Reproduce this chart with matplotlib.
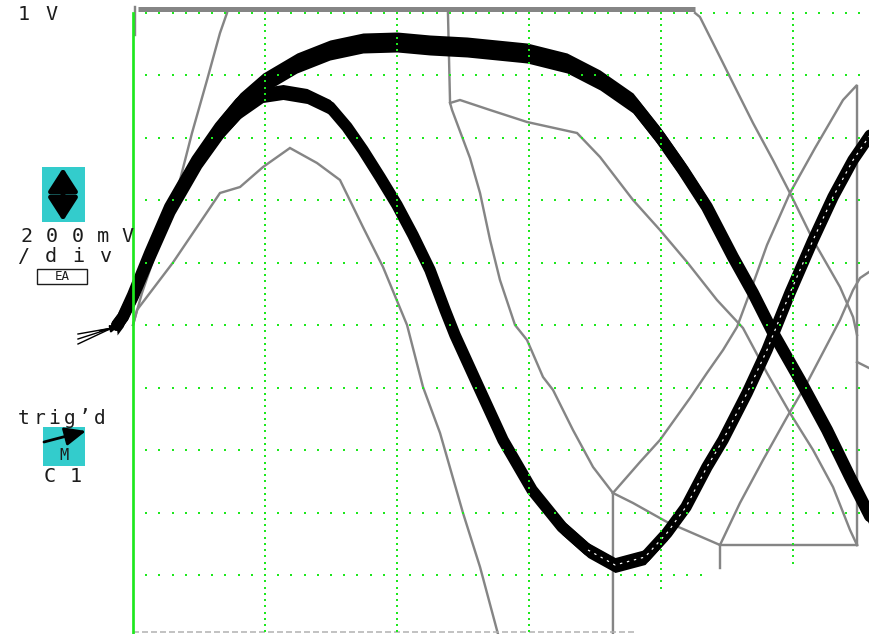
import matplotlib
matplotlib.use("Agg")
import matplotlib.pyplot as plt
import numpy as np
from matplotlib.patches import Rectangle

# screen units: t in divisions from the left edge of the grid,
# v in divisions from the centre line (200 mV/div)

# black trace, slow sweep (upper hump)
a_t = [-0.121, -0.076, 0.0, 0.129, 0.280, 0.485, 0.659, 0.811, 0.985, 1.242, 1.492,
       1.742, 2.0, 2.25, 2.530, 2.985, 3.288, 3.538, 3.788, 3.992, 4.167, 4.348,
       4.545, 4.697, 4.848, 5.053, 5.258, 5.432, 5.598]
a_v = [0.0, 0.128, 0.48, 1.152, 1.888, 2.64, 3.168, 3.552, 3.872, 4.192, 4.40,
       4.512, 4.528, 4.48, 4.448, 4.352, 4.192, 3.92, 3.552, 3.008, 2.48, 1.888,
       1.088, 0.512, -0.12, -0.88, -1.68, -2.432, -3.12]

# black trace, fast sweep (full sine)
b_t = [-0.121, -0.076, 0.0, 0.129, 0.280, 0.485, 0.659, 0.811, 0.985, 1.136, 1.318,
       1.492, 1.621, 1.742, 1.871, 2.0, 2.121, 2.25, 2.364, 2.439, 2.629, 2.803,
       3.023, 3.25, 3.447, 3.652, 3.879, 4.045, 4.189, 4.348, 4.470, 4.652, 4.803,
       4.977, 5.152, 5.303, 5.455, 5.621]
b_v = [0.0, 0.128, 0.448, 1.088, 1.808, 2.56, 3.072, 3.424, 3.68, 3.728, 3.664,
       3.488, 3.168, 2.8, 2.368, 1.92, 1.44, 0.88, 0.24, -0.16, -1.04, -1.84,
       -2.64, -3.232, -3.6, -3.84, -3.712, -3.328, -2.912, -2.272, -1.84, -1.088, -0.4,
       0.512, 1.36, 2.048, 2.64, 3.152]

# grey (single-shot) traces
g1_t = [0.0, 0.068, 0.205, 0.356, 0.447, 0.561, 0.659, 0.712]
g1_v = [0.0, 0.512, 1.36, 2.32, 3.072, 3.92, 4.672, 4.992]

g2_t = [0.0, 0.030, 0.303, 0.659, 0.811, 0.985, 1.189, 1.394, 1.568, 1.742, 1.894,
        2.076, 2.197, 2.326, 2.5, 2.629, 2.765, 2.788]
g2_v = [0.0, 0.24, 1.0, 2.112, 2.208, 2.528, 2.832, 2.592, 2.32, 1.568, 0.928,
        0.0, -0.992, -1.728, -3.008, -3.872, -4.944, -5.12]

g3_t = [2.386, 2.402, 2.417, 2.553, 2.629, 2.705, 2.780, 2.894, 2.985, 3.106, 3.182,
        3.333, 3.485, 3.636, 3.636]
g3_v = [4.992, 3.552, 3.44, 2.672, 2.112, 1.36, 0.72, 0.0, -0.24, -0.832, -1.04,
        -1.68, -2.272, -2.688, -5.04]

g4_t = [2.402, 2.477, 2.705, 2.985, 3.364, 3.538, 3.788, 3.992, 4.197, 4.424, 4.621,
        4.803, 4.977, 5.152, 5.303, 5.432, 5.485]
g4_v = [3.552, 3.6, 3.44, 3.248, 3.072, 2.688, 2.0, 1.52, 1.008, 0.4, -0.048,
        -0.768, -1.408, -2.0, -2.592, -3.28, -3.52]

g5_t = [3.636, 3.841, 3.992, 4.220, 4.348, 4.470, 4.576, 4.652, 4.727, 4.803, 4.977,
        5.167, 5.379, 5.485, 5.485]
g5_v = [-2.688, -2.192, -1.84, -1.168, -0.768, -0.4, -0.032, 0.4, 0.832, 1.28, 2.112,
        2.832, 3.6, 3.84, -3.52]

g6_t = [4.258, 4.295, 4.447, 4.545, 4.697, 4.848, 4.977, 5.152, 5.356, 5.455, 5.485]
g6_v = [4.992, 4.928, 4.288, 3.872, 3.232, 2.64, 2.112, 1.36, 0.608, 0.128, -0.16]

g7_t = [4.447, 4.598, 4.773, 4.955, 5.106, 5.356, 5.455, 5.508, 5.576]
g7_v = [-3.52, -2.848, -2.16, -1.472, -0.928, 0.08, 0.56, 0.752, 0.848]

g8_t = [3.636, 3.788, 4.045, 4.220, 4.447, 5.485]
g8_v = [-2.688, -2.848, -3.152, -3.312, -3.52, -3.52]

g9_t = [4.447, 4.447]
g9_v = [-3.52, -3.888]

g10_t = [5.485, 5.576]
g10_v = [-0.592, -0.688]

top_t = [0.038, 4.258]          # clipped at top of screen
top_v = [5.056, 5.056]
stub_t = [0.015, 0.015]
stub_v = [5.088, 4.64]
floor_t = [0.0, 3.8]            # faint line along the bottom edge
floor_v = [-4.91, -4.91]

W, H = 869, 634
X0, Y0, DX, DY = 133, 325, 132, 62.5   # screen geometry in pixels

fig = plt.figure(figsize=(W / 100, H / 100), dpi=100)
ax = fig.add_axes([0, 0, 1, 1])
ax.set_xlim(-X0 / DX, (W - X0) / DX)
ax.set_ylim((Y0 - H) / DY, Y0 / DY)
ax.axis("off")

px = 0.72  # points per pixel
GREY = "#858585"
GREEN = "#1ee81e"

for t, v in [(g1_t, g1_v), (g2_t, g2_v), (g3_t, g3_v), (g4_t, g4_v), (g5_t, g5_v),
             (g6_t, g6_v), (g7_t, g7_v), (g8_t, g8_v), (g9_t, g9_v), (g10_t, g10_v),
             (stub_t, stub_v)]:
    ax.plot(t, v, color=GREY, lw=2.4 * px, solid_joinstyle="miter", zorder=2)
ax.plot(top_t, top_v, color=GREY, lw=5 * px, solid_capstyle="butt", zorder=2)
ax.plot(floor_t, floor_v, color="#b0b0b0", lw=1.5 * px, dashes=(4, 2), zorder=2)

# noisy black traces: vertical noise band plus a thick core
ax.fill_between(a_t, np.array(a_v) - 0.16, np.array(a_v) + 0.16, color="k", lw=0, zorder=3)
ax.plot(a_t, a_v, color="k", lw=12 * px, solid_capstyle="round", zorder=3)
ax.fill_between(b_t, np.array(b_v) - 0.12, np.array(b_v) + 0.12, color="k", lw=0, zorder=3)
ax.plot(b_t, b_v, color="k", lw=11.5 * px, solid_capstyle="round", zorder=3)
ax.plot(b_t[24:], b_v[24:], color="white", lw=1.2 * px, dashes=(2, 4), zorder=3.5)

# graticule
ax.plot([0, 0], [5.0, -5.0], color=GREEN, lw=2.7 * px, zorder=4)
gx, gy = [], []
for c in range(1, 6):
    for k in range(0, 100):
        gx.append(c)
        gy.append(5 - 0.1 * k)
for r in range(0, 10):
    for k in range(1, 56):
        gx.append(0.1 * k)
        gy.append(5 - r)
gx, gy = np.array(gx), np.array(gy)
keep = ~(((gx > 4.3) & (gy < -3.89)) | ((gx > 3.88) & (gy < -4.24)))
ax.plot(gx[keep], gy[keep], ls="none", marker="s", ms=2.2 * px, mew=0,
        color=GREEN, zorder=5)

# labels and soft keys, in pixel coordinates
lab = fig.add_axes([0, 0, 1, 1])
lab.set_xlim(0, W)
lab.set_ylim(H, 0)
lab.axis("off")

FONT = "DejaVu Sans Mono"
INK = "#1c1c1c"


def spaced(x0, y, s, step, size=14.5):
    for i, ch in enumerate(s):
        lab.text(x0 + i * step, y, ch, ha="center", va="center", fontsize=size,
                 family=FONT, color=INK)


spaced(24, 15, "1 V", 14)
spaced(27, 237, "200mV", 25.2)
spaced(24, 256, "/div", 27)
spaced(24, 418, "trig’d", 15.2, size=14)
spaced(50, 476, "C1", 26)

CYAN = "#33cccc"
lab.add_patch(Rectangle((42, 167), 43, 55, color=CYAN, lw=0))
lab.annotate("", xy=(63, 168), xytext=(63, 221),
             arrowprops=dict(arrowstyle="<|-|>,head_length=0.7,head_width=0.45",
                             lw=3.5, color="k", shrinkA=0, shrinkB=0,
                             mutation_scale=20))
lab.add_patch(Rectangle((37, 269), 50, 15, fill=False, ec=INK, lw=1))
lab.text(62, 277, "EA", ha="center", va="center", fontsize=9, family=FONT, color=INK)

lab.add_patch(Rectangle((43, 427), 42, 39, color=CYAN, lw=0))
lab.annotate("", xy=(86, 431), xytext=(44, 442),
             arrowprops=dict(arrowstyle="-|>,head_length=0.8,head_width=0.35",
                             lw=2, color="k", shrinkA=0, shrinkB=0,
                             mutation_scale=16))
lab.text(64, 456, "M", ha="center", va="center", fontsize=11, family=FONT, color=INK)

# trigger marker
for y0 in (332, 337, 342):
    lab.plot([78, 112], [y0 + 2, 328], color="k", lw=1.4 * px)
lab.annotate("", xy=(118, 327), xytext=(100, 331),
             arrowprops=dict(arrowstyle="-|>", lw=1.5, color="k",
                             shrinkA=0, shrinkB=0, mutation_scale=10))

fig.savefig("out.png", dpi=100)
